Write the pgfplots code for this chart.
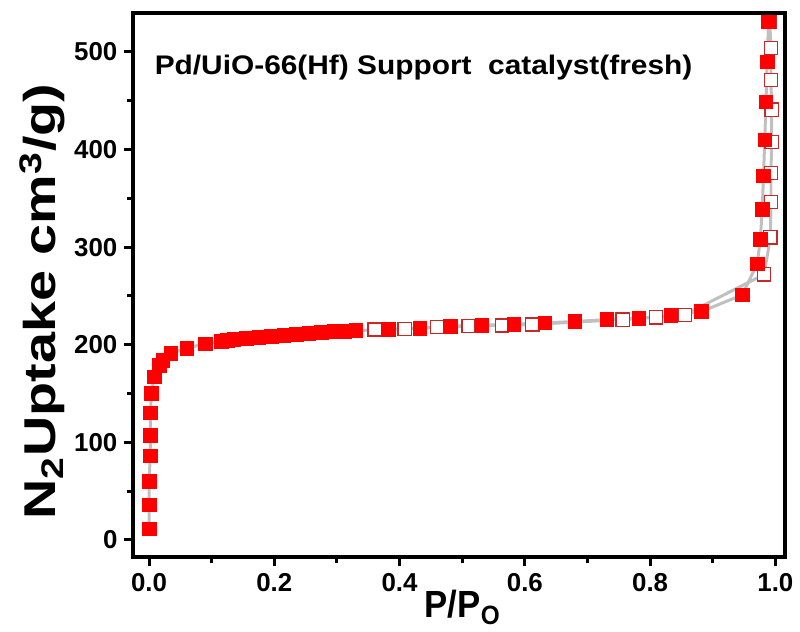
\documentclass[border=0pt]{standalone}
\usepackage{fontspec}
\setmainfont{Liberation Sans}
\usepackage{pgfplots}
\usepackage{pgfplotstable}
\pgfplotsset{compat=1.18}
\definecolor{linegray}{RGB}{192,192,192}
\definecolor{openred}{RGB}{200,40,40}

\pgfplotstableread{
x y
0.000 11.5
0.000 36
0.000 60
0.002 86
0.002 107
0.002 130
0.004 150
0.008 167
0.016 179
0.022 184
0.035 191
0.060 196.5
0.090 201
0.115 203.5
0.125 204.5
0.135 205.5
0.145 206
0.155 206.5
0.165 207
0.175 207.5
0.185 208
0.195 208.5
0.205 209
0.215 209.5
0.225 210
0.235 210.5
0.245 211
0.255 211.5
0.265 212
0.275 212.5
0.285 213
0.295 213.5
0.312 214
0.330 214.5
0.382 215.6
0.432 217
0.481 219
0.531 220
0.582 221
0.632 222.4
0.680 223.8
0.731 225.8
0.782 227
0.833 230
0.882 234
0.947 251
0.971 283
0.976 308
0.979 339
0.981 373
0.983 410
0.985 449
0.987 490
0.989 531
}\adsorption

\pgfplotstableread{
x y
0.991 531
0.993 504
0.993 471
0.994 441
0.994 408
0.993 376
0.993 346
0.992 310
0.982 272
0.855 230.6
0.809 228
0.756 225.8
0.612 220.7
0.563 219.7
0.510 219
0.460 218
0.408 216
0.360 215.6
}\desorption

\begin{document}
\begin{tikzpicture}
\begin{axis}[
  scale only axis,
  width=327.5pt, height=273.5pt,
  xmin=-0.025, xmax=1.016,
  ymin=-18, ymax=540,
  axis line style={line width=2pt},
  every tick/.style={black, line width=1.5pt},
  tick align=outside,
  xtick pos=bottom, ytick pos=left,
  major tick length=4.5pt, minor tick length=3pt,
  xtick={0,0.2,0.4,0.6,0.8,1.0},
  ytick={0,100,200,300,400,500},
  minor x tick num=1, minor y tick num=1,
  xticklabel style={/pgf/number format/fixed, /pgf/number format/fixed zerofill, /pgf/number format/precision=1},
  /pgf/number format/assume math mode=true,
  tick label style={font=\fontsize{13}{15}\selectfont\bfseries},
  xlabel={\scalebox{0.92}[1]{P/P\textsubscript{O}}},
  ylabel={\scalebox{1}[0.8]{N\textsubscript{2}Uptake cm\textsuperscript{3}/g)}},
  xlabel style={font=\fontsize{19}{22}\selectfont\bfseries, at={(rel axis cs:0.505,-0.092)}, anchor=center},
  ylabel style={font=\fontsize{28}{32}\selectfont\bfseries, at={(rel axis cs:-0.14,0.47)}, anchor=center},
  clip=false,
]
\addplot[linegray, line width=1.5pt, no marks] table[x=x,y=y] {\adsorption};
\addplot[linegray, line width=1.5pt, no marks] table[x=x,y=y] {\desorption};
\addplot[only marks, mark=square*, mark size=3.3pt, mark options={fill=white, draw=openred, line width=0.6pt}] table[x=x,y=y] {\desorption};
\addplot[only marks, mark=square*, mark size=3.4pt, mark options={fill=red, draw=red, line width=0.3pt}] table[x=x,y=y] {\adsorption};
\node[anchor=west, font=\fontsize{15}{18}\selectfont\bfseries] at (rel axis cs:0.022,0.9) {\scalebox{1}[0.9]{Pd/UiO-66(Hf) Support\ \ catalyst(fresh)}};
\end{axis}
\path[use as bounding box] (-67pt,-37pt) rectangle (333pt,280pt);
\end{tikzpicture}
\end{document}
